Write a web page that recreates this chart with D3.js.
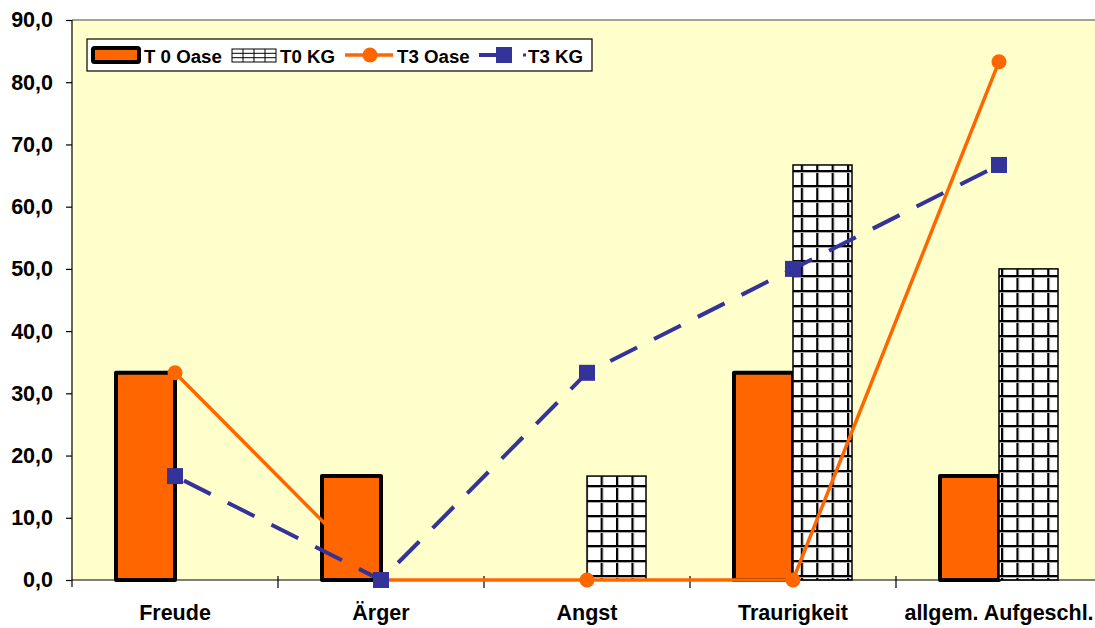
<!DOCTYPE html>
<html>
<head>
<meta charset="utf-8">
<script src="https://cdn.jsdelivr.net/npm/d3@7"></script>
<style>
  html, body { margin: 0; padding: 0; background: #ffffff; }
  svg { display: block; font-family: "Liberation Sans", Arial, sans-serif; }
</style>
</head>
<body>
<svg id="chart" width="1095" height="628"></svg>
<script>
const categories = ["Freude", "Ärger", "Angst", "Traurigkeit", "allgem. Aufgeschl."];
const t0Oase = [33.3, 16.7, 0, 33.3, 16.7];
const t0KG   = [0, 0, 16.7, 66.7, 50.0];
const t3Oase = [33.3, 0, 0, 0, 83.3];
const t3KG   = [16.7, 0, 33.3, 50.0, 66.7];
const yTicks = [0, 10, 20, 30, 40, 50, 60, 70, 80, 90];
const seriesNames = ["T 0 Oase", "T0 KG", "T3 Oase", "T3 KG"];

(function () {
const svg = d3.select("#chart");
const mLeft = 72, mTop = 20, mBottom = 580, mRight = 1102;

const x = d3.scaleBand().domain(categories).range([mLeft, mRight]).paddingInner(0).paddingOuter(0);
const y = d3.scaleLinear().domain([0, 90]).range([mBottom, mTop]);

const ORANGE = "#FF6600", NAVY = "#333399";
const AXIS_FONT = 21.5;

// pattern
const defs = svg.append("defs");
const pat = defs.append("pattern").attr("id", "grid")
  .attr("patternUnits", "userSpaceOnUse")
  .attr("width", 15.4).attr("height", 15)
  .attr("x", 0).attr("y", 5);
pat.append("rect").attr("width", 15.4).attr("height", 15).attr("fill", "#ffffff");
pat.append("rect").attr("x", 0).attr("y", 0).attr("width", 2).attr("height", 15).attr("fill", "#000");
pat.append("rect").attr("x", 2).attr("y", 0).attr("width", 1).attr("height", 15).attr("fill", "#aaa");
pat.append("rect").attr("x", 0).attr("y", 0).attr("width", 15.4).attr("height", 2).attr("fill", "#000");
pat.append("rect").attr("x", 0).attr("y", 2).attr("width", 15.4).attr("height", 1).attr("fill", "#aaa");

// plot background
svg.append("rect").attr("x", mLeft).attr("y", mTop).attr("width", 1095 - mLeft).attr("height", mBottom - mTop)
  .attr("fill", "#FFFFCC");
svg.append("line").attr("x1", mLeft).attr("x2", 1095).attr("y1", mTop).attr("y2", mTop)
  .attr("stroke", "#808080").attr("stroke-width", 1.5);

const bw = 59;
// T0 Oase bars (left of center)
svg.append("g").selectAll("rect").data(categories.filter((d, i) => t0Oase[i] > 0)).join("rect")
  .attr("x", d => x(d) + x.bandwidth() / 2 - bw)
  .attr("y", d => y(t0Oase[categories.indexOf(d)]))
  .attr("width", bw)
  .attr("height", d => y(0) - y(t0Oase[categories.indexOf(d)]))
  .attr("fill", ORANGE).attr("stroke", "#000").attr("stroke-width", 4)
  .attr("stroke-linejoin", "round");

// T0 KG bars (right of center)
svg.append("g").selectAll("rect").data(categories.filter((d, i) => t0KG[i] > 0)).join("rect")
  .attr("x", d => x(d) + x.bandwidth() / 2)
  .attr("y", d => y(t0KG[categories.indexOf(d)]))
  .attr("width", bw)
  .attr("height", d => y(0) - y(t0KG[categories.indexOf(d)]))
  .attr("fill", "url(#grid)").attr("stroke", "#000").attr("stroke-width", 1.5);

// axes
const yAxis = d3.axisLeft(y).tickValues(yTicks).tickSize(6).tickPadding(13)
  .tickFormat(d => d3.format(".1f")(d).replace(".", ","));
const gy = svg.append("g").attr("transform", `translate(${mLeft},0)`).call(yAxis);
gy.select(".domain").attr("d", `M0,${mTop}V${mBottom + 7}`).attr("stroke", "#000").attr("stroke-width", 1.2);
gy.selectAll(".tick line").attr("stroke", "#000").attr("stroke-width", 1.2);
gy.selectAll(".tick text").attr("font-size", AXIS_FONT).attr("font-weight", "bold")
  .attr("font-family", "Liberation Sans, Arial, sans-serif").attr("fill", "#000");

const xAxis = d3.axisBottom(x).tickSize(0).tickPadding(25);
const gx = svg.append("g").attr("transform", `translate(0,${mBottom})`).call(xAxis);
gx.select(".domain").attr("d", `M${mLeft},0H1095`).attr("stroke", "#000").attr("stroke-width", 1.2);
gx.selectAll(".tick text").attr("font-size", AXIS_FONT).attr("font-weight", "bold")
  .attr("font-family", "Liberation Sans, Arial, sans-serif").attr("fill", "#000");
// boundary ticks
const bounds = categories.map(c => x(c)).concat([x(categories[categories.length - 1]) + x.bandwidth()]);
gx.append("g").selectAll("line").data(bounds.filter(b => b > mLeft && b < 1095)).join("line")
  .attr("x1", d => d).attr("x2", d => d).attr("y1", -4).attr("y2", 8)
  .attr("stroke", "#000").attr("stroke-width", 1.2);

const cx = d => x(d) + x.bandwidth() / 2;

// T3 Oase line
const lineO = d3.line().x((d, i) => cx(categories[i])).y(d => y(d));
svg.append("path").datum(t3Oase).attr("d", lineO)
  .attr("fill", "none").attr("stroke", ORANGE).attr("stroke-width", 3.5);
svg.append("g").selectAll("circle").data(t3Oase).join("circle")
  .attr("cx", (d, i) => cx(categories[i])).attr("cy", d => y(d)).attr("r", 7.5)
  .attr("fill", ORANGE);

// T3 KG line
svg.append("path").datum(t3KG).attr("d", lineO)
  .attr("fill", "none").attr("stroke", NAVY).attr("stroke-width", 4)
  .attr("stroke-dasharray", "30,19").attr("stroke-dashoffset", -10);
svg.append("g").selectAll("rect").data(t3KG).join("rect")
  .attr("x", (d, i) => cx(categories[i]) - 8).attr("y", d => y(d) - 8)
  .attr("width", 16).attr("height", 16).attr("fill", NAVY);

// legend
const lg = svg.append("g");
lg.append("rect").attr("x", 87).attr("y", 39).attr("width", 505).attr("height", 32)
  .attr("fill", "#fff").attr("stroke", "#000").attr("stroke-width", 1.2);
const ly = 55;
lg.append("rect").attr("x", 93).attr("y", 48).attr("width", 46).attr("height", 14)
  .attr("fill", ORANGE).attr("stroke", "#000").attr("stroke-width", 4).attr("rx", 1.5);
lg.append("rect").attr("x", 232).attr("y", 49).attr("width", 44).attr("height", 13)
  .attr("fill", "#fff").attr("stroke", "#000").attr("stroke-width", 1);
[49 + 4.3, 49 + 8.7].forEach(yy => lg.append("line").attr("x1", 232).attr("x2", 276).attr("y1", yy).attr("y2", yy).attr("stroke", "#000"));
[243, 254, 265].forEach(xx => lg.append("line").attr("x1", xx).attr("x2", xx).attr("y1", 49).attr("y2", 62).attr("stroke", "#000"));
lg.append("line").attr("x1", 345).attr("x2", 393).attr("y1", ly).attr("y2", ly).attr("stroke", ORANGE).attr("stroke-width", 3.5);
lg.append("circle").attr("cx", 370).attr("cy", ly).attr("r", 7.5).attr("fill", ORANGE);
lg.append("line").attr("x1", 479).attr("x2", 500).attr("y1", ly).attr("y2", ly).attr("stroke", NAVY).attr("stroke-width", 4);
lg.append("rect").attr("x", 496).attr("y", ly - 8).attr("width", 16).attr("height", 16).attr("fill", NAVY);
lg.append("line").attr("x1", 523).attr("x2", 526).attr("y1", ly).attr("y2", ly).attr("stroke", NAVY).attr("stroke-width", 3);

const lt = [[144, seriesNames[0]], [280, seriesNames[1]], [397, seriesNames[2]], [528, seriesNames[3]]];
lg.selectAll("text.l").data(lt).join("text").attr("class", "l")
  .attr("x", d => d[0]).attr("y", 62.5).text(d => d[1])
  .attr("font-size", 18.7).attr("font-weight", "bold").attr("fill", "#000");
})();
</script>
</body>
</html>
